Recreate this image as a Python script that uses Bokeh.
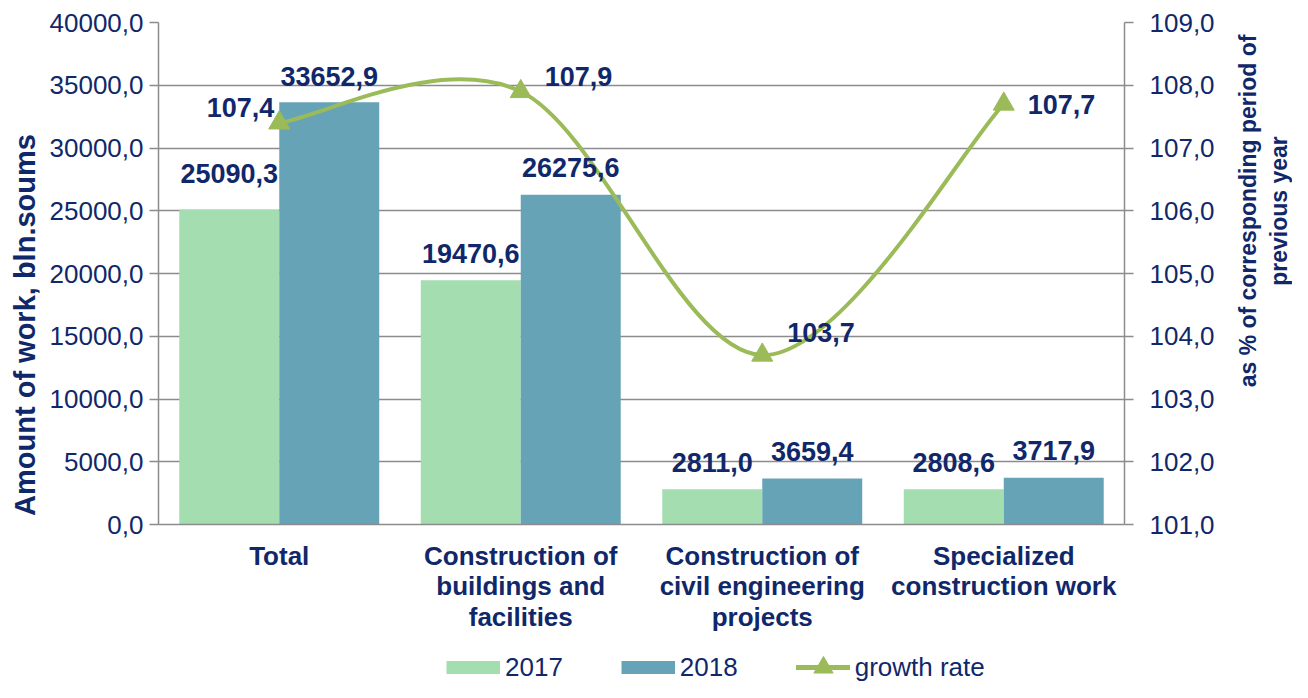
from bokeh.plotting import figure
from bokeh.layouts import row, column
from bokeh.models import (Range1d, LinearAxis, FixedTicker, ColumnDataSource,
                          Legend, LegendItem, Label)
from bokeh.core.properties import value
from bokeh.embed import file_html
from bokeh.resources import INLINE

# ---------------- data ----------------
categories = [
    "Total",
    "Construction of\nbuildings and\nfacilities",
    "Construction of\ncivil engineering\nprojects",
    "Specialized\nconstruction work",
]
values_2017 = [25090.3, 19470.6, 2811.0, 2808.6]
values_2018 = [33652.9, 26275.6, 3659.4, 3717.9]
growth_rate = [107.4, 107.9, 103.7, 107.7]
left_ticks = [0, 5000, 10000, 15000, 20000, 25000, 30000, 35000, 40000]
right_ticks = [101, 102, 103, 104, 105, 106, 107, 108, 109]
series_names = ["2017", "2018", "growth rate"]
left_title = "Amount of work, bln.soums"
right_title = "as % of corresponding period of\nprevious year"

# ---------------- styles ----------------
FONT = "Liberation Sans"
NAVY = "#10286A"
C2017 = "#A3DDB0"
C2018 = "#67A3B7"
CLINE = "#9BBB59"
GRID = "#8C8C8C"
BAR_W = 0.414
NAN = float("nan")
# label offsets (pixels) - presentation only
lift_2017 = [-36, -27, -27, -27]
lift_2018 = [-26, -27, -27, -27]
growth_dx = [-5, 24, 25, 24]
growth_dy = [-15, -15, -23, 0]
growth_align = ["right", "left", "left", "left"]


def fmt(v):
    return f"{v:.1f}".replace(".", ",")


def blank_fig(w, h):
    f = figure(width=w, height=h, x_range=Range1d(0, 1), y_range=Range1d(0, 1),
               output_backend="svg", toolbar_location=None,
               x_axis_location=None, y_axis_location=None,
               min_border_left=0, min_border_right=0, min_border_top=0,
               min_border_bottom=0, outline_line_color=None)
    f.grid.visible = False
    f.background_fill_color = "white"
    f.border_fill_color = "white"
    return f


idx = list(range(len(categories)))

# ---------------- main chart ----------------
p = figure(width=1172, height=636, x_range=Range1d(-0.5, len(categories) - 0.5),
           y_range=Range1d(0, 40000), output_backend="svg", toolbar_location=None,
           min_border_left=113, min_border_right=93, min_border_top=22,
           min_border_bottom=112, outline_line_color=None)
p.extra_y_ranges = {"pct": Range1d(101, 109)}
p.background_fill_color = "white"
p.border_fill_color = "white"

p.xgrid.visible = False
p.ygrid.ticker = FixedTicker(ticks=left_ticks)
p.ygrid.grid_line_color = GRID
p.ygrid.grid_line_width = 1.5

ly = p.left[0]
ly.ticker = FixedTicker(ticks=left_ticks)
ly.major_label_overrides = {t: fmt(t) for t in left_ticks}
bx = p.below[0]
bx.ticker = FixedTicker(ticks=idx)
bx.major_label_overrides = {i: c for i, c in zip(idx, categories)}

ry = LinearAxis(y_range_name="pct", ticker=FixedTicker(ticks=right_ticks))
ry.major_label_overrides = {t: fmt(t) for t in right_ticks}
p.add_layout(ry, "right")

for ax in (ly, ry):
    ax.axis_line_color = GRID
    ax.axis_line_width = 1.5
    ax.major_tick_line_color = GRID
    ax.major_tick_line_width = 1.5
    ax.major_tick_out = 9
    ax.major_tick_in = 0
    ax.minor_tick_line_color = None
    ax.major_label_text_font = FONT
    ax.major_label_text_font_size = "26px"
    ax.major_label_text_color = NAVY
ly.major_label_standoff = 6
ry.major_label_standoff = 16

bx.axis_line_color = GRID
bx.axis_line_width = 1.5
bx.major_tick_line_color = None
bx.major_tick_out = 0
bx.minor_tick_line_color = None
bx.major_label_standoff = 16
bx.major_label_text_font = FONT
bx.major_label_text_font_size = "26px"
bx.major_label_text_font_style = "bold"
bx.major_label_text_color = NAVY
bx.major_label_text_line_height = 1.03

# bars
x17 = [i - BAR_W / 2 for i in idx]
x18 = [i + BAR_W / 2 for i in idx]
p.vbar(x=x17, top=values_2017, width=BAR_W, fill_color=C2017, line_color=None)
p.vbar(x=x18, top=values_2018, width=BAR_W, fill_color=C2018, line_color=None)

# smoothed growth line (Catmull-Rom style bezier through the data points)
n = len(growth_rate)
seg = dict(x0=[], y0=[], x1=[], y1=[], cx0=[], cy0=[], cx1=[], cy1=[])
for i in range(n - 1):
    xa, ya = idx[i], growth_rate[i]
    xb, yb = idx[i + 1], growth_rate[i + 1]
    xm, ym = (idx[i - 1], growth_rate[i - 1]) if i > 0 else (xa, ya)
    xp, yp = (idx[i + 2], growth_rate[i + 2]) if i + 2 < n else (xb, yb)
    seg["x0"].append(xa); seg["y0"].append(ya)
    seg["x1"].append(xb); seg["y1"].append(yb)
    seg["cx0"].append(xa + (xb - xm) / 6); seg["cy0"].append(ya + (yb - ym) / 6)
    seg["cx1"].append(xb - (xp - xa) / 6); seg["cy1"].append(yb - (yp - ya) / 6)
p.bezier(x0="x0", y0="y0", x1="x1", y1="y1", cx0="cx0", cy0="cy0",
         cx1="cx1", cy1="cy1", source=ColumnDataSource(seg),
         line_color=CLINE, line_width=4, line_cap="round", y_range_name="pct")
p.scatter(x=idx, y=growth_rate, marker="triangle", size=21,
          fill_color=CLINE, line_color=CLINE, y_range_name="pct")

# value labels
src17 = ColumnDataSource(dict(x=x17, y=values_2017, t=[fmt(v) for v in values_2017], dy=lift_2017))
src18 = ColumnDataSource(dict(x=x18, y=values_2018, t=[fmt(v) for v in values_2018], dy=lift_2018))
for s in (src17, src18):
    p.text(x="x", y="y", text="t", source=s, y_offset="dy", text_align="center",
           text_baseline="alphabetic", text_font=value(FONT), text_font_style="bold",
           text_font_size="27px", text_color=NAVY)
srcg = ColumnDataSource(dict(x=idx, y=growth_rate, t=[fmt(v) for v in growth_rate],
                             dx=growth_dx, dy=growth_dy, al=growth_align))
p.text(x="x", y="y", text="t", source=srcg, x_offset="dx", y_offset="dy",
       text_align="al", text_baseline="alphabetic", text_font=value(FONT),
       text_font_style="bold", text_font_size="27px", text_color=NAVY,
       y_range_name="pct")

# ---------------- legend strip ----------------
lg = blank_fig(1172, 46)
k17 = lg.line(x=[NAN], y=[NAN], line_color=C2017, line_width=13, line_cap="butt")
k18 = lg.line(x=[NAN], y=[NAN], line_color=C2018, line_width=13, line_cap="butt")
kgr = lg.line(x=[NAN], y=[NAN], line_color=CLINE, line_width=5, line_cap="round")
kmk = lg.scatter(x=[NAN], y=[NAN], marker="triangle", fill_color=CLINE, line_color=CLINE)
leg = Legend(items=[LegendItem(label=series_names[0], renderers=[k17]),
                    LegendItem(label=series_names[1], renderers=[k18]),
                    LegendItem(label=series_names[2], renderers=[kgr, kmk])],
             orientation="horizontal", location=(288, -9),
             border_line_alpha=0, background_fill_alpha=0, padding=0, margin=0,
             label_text_font=FONT, label_text_font_size="26px", label_text_color=NAVY,
             glyph_width=54, glyph_height=48, label_standoff=5, spacing=58)
lg.add_layout(leg, "center")

# ---------------- axis titles ----------------
lf = blank_fig(45, 682)
lf.add_layout(Label(x=24.5, y=357.5, x_units="screen", y_units="screen",
                    text=left_title, angle=90, angle_units="deg",
                    text_align="center", text_baseline="middle", text_font=FONT,
                    text_font_style="bold", text_font_size="29px", text_color=NAVY))
rf = blank_fig(75, 682)
rf.add_layout(Label(x=46, y=471.5, x_units="screen", y_units="screen",
                    text=right_title, angle=90, angle_units="deg",
                    text_align="center", text_baseline="middle", text_font=FONT,
                    text_font_style="bold", text_font_size="23px", text_color=NAVY))

layout = row(lf, column(p, lg, spacing=0), rf, spacing=0)
open("out.html", "w").write(file_html(layout, INLINE))
